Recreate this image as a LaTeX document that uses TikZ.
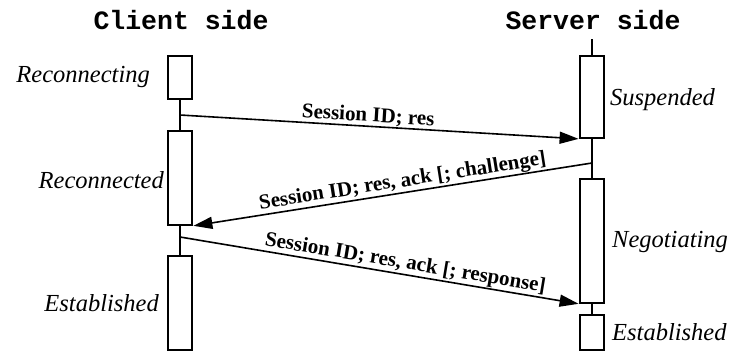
\documentclass[tikz,border=0pt]{standalone}
\usepackage{fontspec}
\setmainfont{Liberation Serif}
\newfontfamily\headfont{Liberation Mono}
\usetikzlibrary{arrows.meta}
\begin{document}
\begin{tikzpicture}[x=1pt,y=-1pt,
  head/.style={font=\headfont\bfseries\fontsize{26.5}{30}\selectfont, inner sep=0pt},
  state/.style={font=\itshape\fontsize{24.5}{28}\selectfont, inner sep=0pt},
  act/.style={draw, line width=1.8pt, minimum width=24pt, inner sep=0pt, fill=white},
  life/.style={line width=1.8pt},
  msg/.style={line width=1.6pt, -{Triangle[length=19pt,width=12pt]}, shorten >=0.5pt},
  msglabel/.style={font=\bfseries\fontsize{21}{24}\selectfont, sloped, above, inner sep=0.5pt}
]
\useasboundingbox (0,0) rectangle (732,351);

% column headings
\node[head] (client) at (181,20) {Client side};
\node[head] (server) at (593,20) {Server side};

% client activation boxes
\node[act, minimum height=43pt] (crecing) at (180,77.5) {};
\node[act, minimum height=94pt] (creced)  at (180,178) {};
\node[act, minimum height=94pt] (cest)    at (180,303) {};

% server activation boxes
\coordinate (stop) at (592,39);
\node[act, minimum height=82pt]  (ssus) at (592,97) {};
\node[act, minimum height=124pt] (sneg) at (592,241) {};
\node[act, minimum height=35pt]  (sest) at (592,332.5) {};

% lifeline segments
\draw[life] (crecing.south) -- (creced.north);
\draw[life] (creced.south) -- (cest.north);
\draw[life] (stop) -- (ssus.north);
\draw[life] (ssus.south) -- (sneg.north);
\draw[life] (sneg.south) -- (sest.north);

% message origins on the lifelines
\coordinate (m1) at (180,115);
\coordinate (m2) at (592,163);
\coordinate (m3) at (180,237);

% messages
\draw[msg] (m1) -- (ssus.south west)
  node[msglabel, pos=0.47] {Session ID; res};
\draw[msg] (m2) -- (creced.south east)
  node[msglabel, pos=0.47] {Session ID; res, ack [; challenge]};
\draw[msg] (m3) -- (sneg.south west)
  node[msglabel, pos=0.56] {Session ID; res, ack [; response]};

% state labels
\node[state, anchor=east] (lrecing) at (150,77) {Reconnecting};
\node[state, anchor=east] (lreced)  at (164,180) {Reconnected};
\node[state, anchor=east] (lcest)   at (159,303) {Established};
\node[state, anchor=west] (lsus)    at (610,100) {Suspended};
\node[state, anchor=west] (lneg)    at (612,242) {Negotiating};
\node[state, anchor=west] (lsest)   at (612,332) {Established};
\end{tikzpicture}
\end{document}
